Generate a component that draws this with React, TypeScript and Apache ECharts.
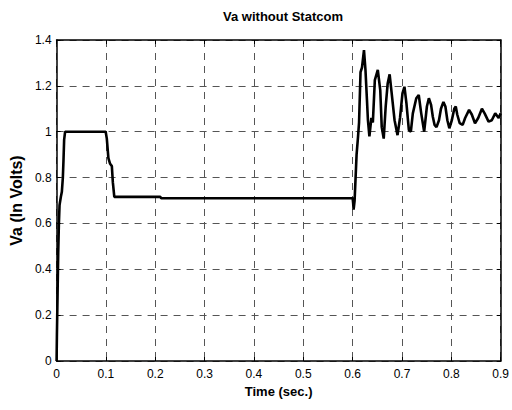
import React, { useEffect, useRef } from "react";
import * as echarts from "echarts";

const timeSec: number[] = [
  0, 0.0007, 0.002, 0.0033, 0.0047, 0.006, 0.0087, 0.0107, 0.0127, 0.014, 0.0153, 0.0173,
  0.0995, 0.1018, 0.105, 0.1085, 0.112, 0.114, 0.117, 0.21, 0.212,
  0.6, 0.601, 0.602, 0.604, 0.606, 0.608, 0.611, 0.613, 0.616, 0.619, 0.623, 0.626, 0.629,
  0.631, 0.634, 0.638, 0.641, 0.645, 0.651, 0.656, 0.659, 0.663, 0.667, 0.671, 0.675,
  0.679, 0.685, 0.691, 0.696, 0.701, 0.705, 0.709, 0.714, 0.718, 0.722, 0.729, 0.734,
  0.739, 0.745, 0.7505, 0.7545, 0.759, 0.7625, 0.766, 0.77, 0.775, 0.779, 0.784, 0.788,
  0.792, 0.796, 0.801, 0.806, 0.809, 0.812, 0.817, 0.823, 0.828, 0.836, 0.8415, 0.848,
  0.8545, 0.862, 0.8675, 0.8755, 0.882, 0.889, 0.896, 0.9,
];

const vaVolts: number[] = [
  0, 0.12, 0.29, 0.47, 0.6, 0.68, 0.716, 0.738, 0.8, 0.875, 0.964, 1.0,
  1.0, 0.97, 0.885, 0.86, 0.85, 0.78, 0.716, 0.716, 0.71,
  0.71, 0.69, 0.66, 0.7, 0.8, 0.9, 0.98, 1.04, 1.26, 1.28, 1.356, 1.27, 1.14,
  1.05, 0.98, 1.06, 1.04, 1.225, 1.27, 1.18, 1.02, 0.97, 1.11, 1.21, 1.25,
  1.17, 1.05, 0.985, 1.06, 1.167, 1.196, 1.125, 1.007, 1.0, 1.08, 1.146, 1.16,
  1.08, 1.0, 1.11, 1.146, 1.117, 1.065, 1.03, 1.02, 1.05, 1.1, 1.13, 1.11,
  1.05, 1.015, 1.05, 1.1, 1.11, 1.075, 1.037, 1.03, 1.06, 1.095, 1.075, 1.037,
  1.06, 1.1, 1.08, 1.044, 1.05, 1.08, 1.06, 1.08,
];

const xTicks = { min: 0, max: 0.9, interval: 0.1 };
const yTicks = { min: 0, max: 1.4, interval: 0.2 };

const FONT = "Liberation Sans, Arial, sans-serif";

export default function App() {
  const ref = useRef<HTMLDivElement>(null);
  useEffect(() => {
    if (!ref.current) return;
    const chart = echarts.init(ref.current, undefined, { renderer: "svg" });
    const data = timeSec.map((t, i) => [t, vaVolts[i]]);
    const gridLine = { show: true, lineStyle: { color: "#555", type: [7, 6] as any, width: 1 } };
    chart.setOption({
      animation: false,
      backgroundColor: "#fff",
      title: {
        text: "Va without Statcom",
        left: 278,
        top: 5,
        textAlign: "center",
        textStyle: { fontFamily: FONT, fontSize: 13, fontWeight: "bold", color: "#000" },
      },
      grid: { left: 53, top: 40, right: 8, bottom: 49, containLabel: false },
      xAxis: [
        {
          type: "value",
          ...xTicks,
          position: "bottom",
          name: "Time (sec.)",
          nameLocation: "middle",
          nameGap: 23,
          nameTextStyle: { fontFamily: FONT, fontSize: 13, fontWeight: "bold", color: "#000" },
          axisLine: { show: true, onZero: false, lineStyle: { color: "#000", width: 1.5 } },
          axisTick: { show: true, inside: true, length: 4, lineStyle: { color: "#000" } },
          axisLabel: { fontFamily: FONT, fontSize: 12, color: "#000", margin: 7 },
          splitLine: gridLine,
        },
        {
          type: "value",
          ...xTicks,
          position: "top",
          axisLine: { show: true, onZero: false, lineStyle: { color: "#000", width: 1.5 } },
          axisTick: { show: true, inside: true, length: 4, lineStyle: { color: "#000" } },
          axisLabel: { show: false },
          splitLine: { show: false },
        },
      ],
      yAxis: [
        {
          type: "value",
          ...yTicks,
          position: "left",
          name: "Va (In Volts)",
          nameLocation: "middle",
          nameGap: 26,
          nameTextStyle: { fontFamily: FONT, fontSize: 16, fontWeight: "bold", color: "#000" },
          axisLine: { show: true, onZero: false, lineStyle: { color: "#000", width: 1.5 } },
          axisTick: { show: true, inside: true, length: 4, lineStyle: { color: "#000" } },
          axisLabel: { fontFamily: FONT, fontSize: 12, color: "#000", margin: 5 },
          splitLine: gridLine,
        },
        {
          type: "value",
          ...yTicks,
          position: "right",
          axisLine: { show: true, onZero: false, lineStyle: { color: "#000", width: 1.5 } },
          axisTick: { show: true, inside: true, length: 4, lineStyle: { color: "#000" } },
          axisLabel: { show: false },
          splitLine: { show: false },
        },
      ],
      series: [
        {
          type: "line",
          data,
          xAxisIndex: 0,
          yAxisIndex: 0,
          showSymbol: false,
          symbol: "none",
          lineStyle: { color: "#000", width: 2.6 },
          clip: true,
        },
      ],
    });
    return () => chart.dispose();
  }, []);
  return (
    <div
      ref={ref}
      style={{ position: "fixed", left: 0, top: 0, width: 512, height: 410 }}
    />
  );
}
